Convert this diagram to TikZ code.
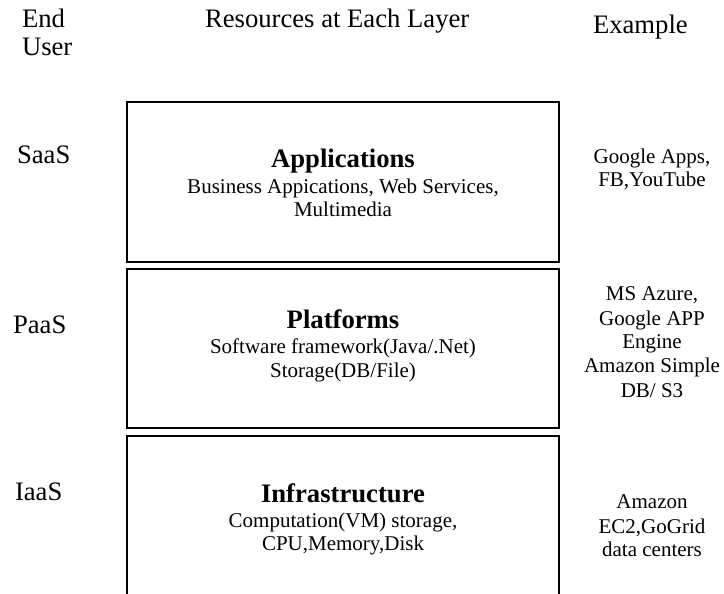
\documentclass[tikz,border=0pt]{standalone}
\usepackage{fontspec}
\setmainfont{Liberation Serif}
\newcommand\hdfont{\fontsize{20}{21}\selectfont}
\newcommand\bdfont{\fontsize{15.75}{18}\selectfont}
\newcommand\ttlfont{\fontsize{20}{21}\selectfont\bfseries}
\begin{document}
\begin{tikzpicture}[x=0.75pt,y=-0.75pt,
  txt/.style={inner sep=0pt, outer sep=0pt},
  hd/.style={txt, anchor=base west, font=\hdfont},
  ttl/.style={txt, anchor=base, font=\ttlfont},
  bd/.style={txt, anchor=base, font=\bdfont},
  layerbox/.style={draw, line width=1.4pt, minimum width=324pt, inner sep=0pt}]
\useasboundingbox (0,0) rectangle (724,593);
\clip (0,0) rectangle (724,593);
% headers
\node[hd] (end) at (22,27) {End};
\node[hd] (user) at (22,55) {User};
\node[hd] (res) at (205,27) {Resources at Each Layer};
\node[hd] (ex) at (593,33) {Example};
% service models
\node[hd] (saas) at (17,163) {SaaS};
\node[hd] (paas) at (13,333) {PaaS};
\node[hd] (iaas) at (15,500) {IaaS};
% boxes
\node[layerbox, minimum height=120pt] (appbox) at (343,182) {};
\node[layerbox, minimum height=119.25pt] (platbox) at (343,348.5) {};
\node[layerbox, minimum height=138pt] (infbox) at (343,528) {};
% box texts
\node[ttl] (app) at (343,167) {Applications};
\node[bd] (app1) at (343,193) {Business Appications, Web Services,};
\node[bd] (app2) at (343,216) {Multimedia};
\node[ttl] (plat) at (343,328) {Platforms};
\node[bd] (plat1) at (343,353) {Software framework(Java/.Net)};
\node[bd] (plat2) at (343,377) {Storage(DB/File)};
\node[ttl] (inf) at (343,502) {Infrastructure};
\node[bd] (inf1) at (343,527) {Computation(VM) storage,};
\node[bd] (inf2) at (343,550) {CPU,Memory,Disk};
% examples
\node[bd] (ex1) at (652,163) {Google Apps,};
\node[bd] (ex2) at (652,186) {FB,YouTube};
\node[bd] (ex3) at (652,300) {MS Azure,};
\node[bd] (ex4) at (652,325) {Google APP};
\node[bd] (ex5) at (652,348) {Engine};
\node[bd] (ex6) at (652,372) {Amazon Simple};
\node[bd] (ex7) at (652,397) {DB/ S3};
\node[bd] (ex8) at (652,508) {Amazon};
\node[bd] (ex9) at (652,533) {EC2,GoGrid};
\node[bd] (ex10) at (652,556) {data centers};
\end{tikzpicture}
\end{document}
